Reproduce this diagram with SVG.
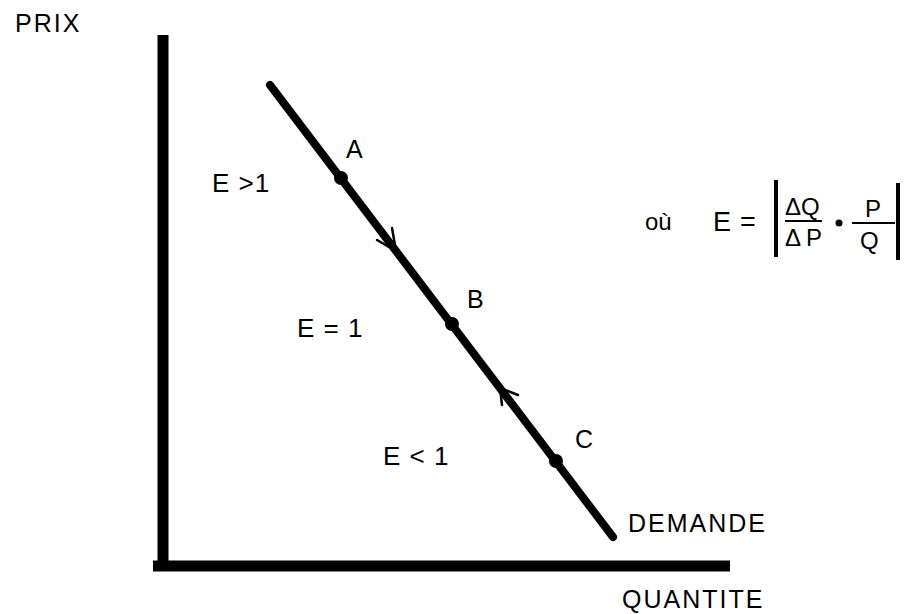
<svg xmlns="http://www.w3.org/2000/svg" width="907" height="614" viewBox="0 0 907 614">
<style>
text{font-family:"Liberation Sans",Arial,sans-serif;fill:#000}
.lbl{font-size:25px}
.reg{font-size:26px;letter-spacing:1px}
.ax{font-size:25px;letter-spacing:2px}
.f{font-size:24px}
.fb{font-size:27px}
.axis{stroke:#000;stroke-width:11;fill:none}
.dem{stroke:#000;stroke-width:8;stroke-linecap:round;fill:none}
.arr{stroke:#000;stroke-width:2.5;fill:none;stroke-linecap:round}
.bar{stroke:#000;stroke-width:4}
.frac{stroke:#000;stroke-width:2}
</style>
<rect width="907" height="614" fill="#fff"/>
<g id="axes">
<line class="axis" x1="163" y1="35" x2="163" y2="566"/>
<line class="axis" x1="153" y1="566" x2="730" y2="566"/>
<text class="ax" x="15" y="32">PRIX</text>
<text class="ax" x="622" y="608">QUANTITE</text>
</g>
<g id="connectors">
<line class="dem" x1="270" y1="85" x2="613" y2="537"/>
<path class="arr" d="M377,240 L396,251 L392,228"/>
<path class="arr" d="M518,395 L500,388 L502,405"/>
</g>
<g id="demande"><text class="ax" x="628" y="532">DEMANDE</text></g>
<g id="pointA"><circle cx="341" cy="178" r="7"/><text class="lbl" x="346" y="158">A</text></g>
<g id="pointB"><circle cx="452" cy="324" r="7"/><text class="lbl" x="467" y="308">B</text></g>
<g id="pointC"><circle cx="556" cy="461" r="7"/><text class="lbl" x="575" y="448">C</text></g>
<g id="regionA"><text class="reg" x="212" y="192">E &gt;1</text></g>
<g id="regionB"><text class="reg" x="297" y="337">E = 1</text></g>
<g id="regionC"><text class="reg" x="383" y="465">E &lt; 1</text></g>
<g id="formula">
<text class="f" x="645" y="230">où</text>
<text class="fb" x="713" y="231">E</text>
<text class="fb" x="740" y="231">=</text>
<line class="bar" x1="776" y1="180" x2="776" y2="257"/>
<text class="f" x="785" y="215">ΔQ</text>
<line class="frac" x1="785" y1="221" x2="822" y2="221"/>
<text class="f" x="785" y="246" textLength="37" lengthAdjust="spacing">Δ P</text>
<circle cx="839" cy="223" r="3.5"/>
<text class="f" x="865" y="217">P</text>
<line class="frac" x1="852" y1="223" x2="895" y2="223"/>
<text class="f" x="860" y="249">Q</text>
<line class="bar" x1="898" y1="183" x2="898" y2="260"/>
</g>
</svg>
